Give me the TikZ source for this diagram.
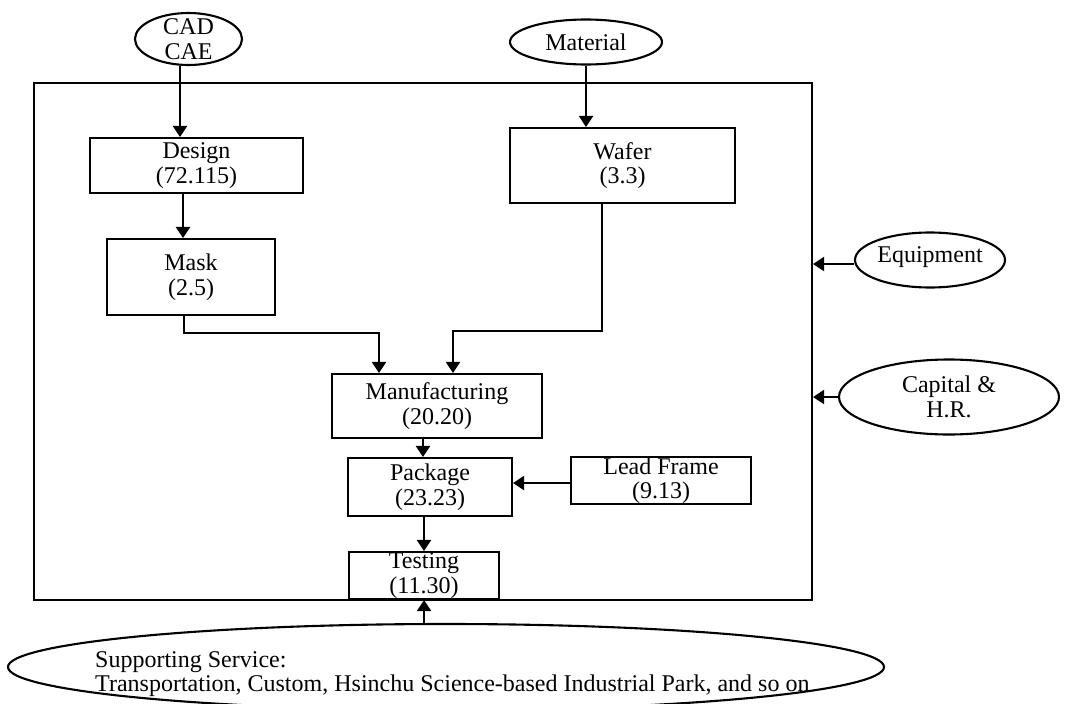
\documentclass[tikz,border=0pt]{standalone}
\usepackage{fontspec}
\setmainfont{Liberation Serif}
\usetikzlibrary{shapes.geometric,arrows.meta,calc}
\begin{document}
\begin{tikzpicture}[x=1pt,y=-1pt,
  every node/.style={font=\fontsize{24}{24.5}\selectfont},
  box/.style={draw, line width=2.1pt, inner sep=0pt, align=center},
  oval/.style={draw, ellipse, line width=2.1pt, inner sep=0pt},
  lbl/.style={inner sep=0pt, align=center},
  arr/.style={line width=2.1pt, -{Triangle[length=11pt,width=14pt]}}]
\clip (0,0) rectangle (1066,704);
% outer frame
\node[draw, line width=2.1pt, inner sep=0pt, minimum width=778pt, minimum height=517pt] (frame) at (423,341.5) {};
% ellipses
\node[oval, minimum width=107pt, minimum height=52pt] (cad) at (188.5,39) {};
\node[lbl] (cadt) at (cad) {CAD\\CAE};
\node[oval, minimum width=152pt, minimum height=45pt] (material) at (586,42) {};
\node[lbl] (materialt) at (material) {Material};
\node[oval, minimum width=150pt, minimum height=55pt] (equip) at (930,260) {};
\node[lbl] (equipt) at ([yshift=3pt]equip.center) {Equipment};
\node[oval, minimum width=220pt, minimum height=75pt] (capital) at (949,397) {};
\node[lbl] (capitalt) at (capital) {Capital \&\\H.R.};
\node[oval, minimum width=876pt, minimum height=86pt] (support) at (446,667) {};
\node[inner sep=0pt, align=left, anchor=west] (supportt) at (95,674) {Supporting Service:\\Transportation, Custom, Hsinchu Science-based Industrial Park, and so on};
% boxes
\node[box, minimum width=213pt, minimum height=55pt] (design) at (196.5,165.5) {Design\\(72.115)};
\node[box, minimum width=168pt, minimum height=76pt] (mask) at (191,277) {Mask\\(2.5)};
\node[box, minimum width=225pt, minimum height=75pt] (wafer) at (622.5,165.5) {Wafer\\(3.3)};
\node[box, minimum width=210pt, minimum height=64pt] (manu) at (437,406) {Manufacturing\\(20.20)};
\node[box, minimum width=164pt, minimum height=58pt] (pkg) at (430,487) {Package\\(23.23)};
\node[box, minimum width=180pt, minimum height=47pt] (lead) at (661,480.5) {Lead Frame\\(9.13)};
\node[box, minimum width=150pt, minimum height=47pt] (test) at (424,575.5) {Testing\\(11.30)};
% connectors
\draw[arr] ([xshift=-8.5pt]cad.south) -- ([xshift=-8.5pt]cad.south |- design.north);
\draw[arr] (material.south) -- (material.south |- wafer.north);
\draw[arr] ([xshift=-13.5pt]design.south) -- ([xshift=-13.5pt]design.south |- mask.north);
\draw[arr] ([xshift=-7pt]mask.south) -- ++(0,17) -| ([xshift=-58pt]manu.north);
\draw[arr] ([xshift=-20.5pt]wafer.south) -- ++(0,127) -| ([xshift=16pt]manu.north);
\draw[arr] ([xshift=-14pt]manu.south) -- ([xshift=-14pt]manu.south |- pkg.north);
\draw[arr] ([xshift=-6pt]pkg.south) -- ([xshift=-6pt]pkg.south |- test.north);
\draw[arr] ([yshift=-2.5pt]lead.west) -- ([yshift=-2.5pt]lead.west -| pkg.east);
\draw[arr] ([yshift=-4pt]equip.west) -- ([yshift=-4pt]equip.west -| frame.east);
\draw[arr] (capital.west) -- (capital.west -| frame.east);
\draw[arr] (support.north -| test.south) -- (test.south);
\end{tikzpicture}
\end{document}
